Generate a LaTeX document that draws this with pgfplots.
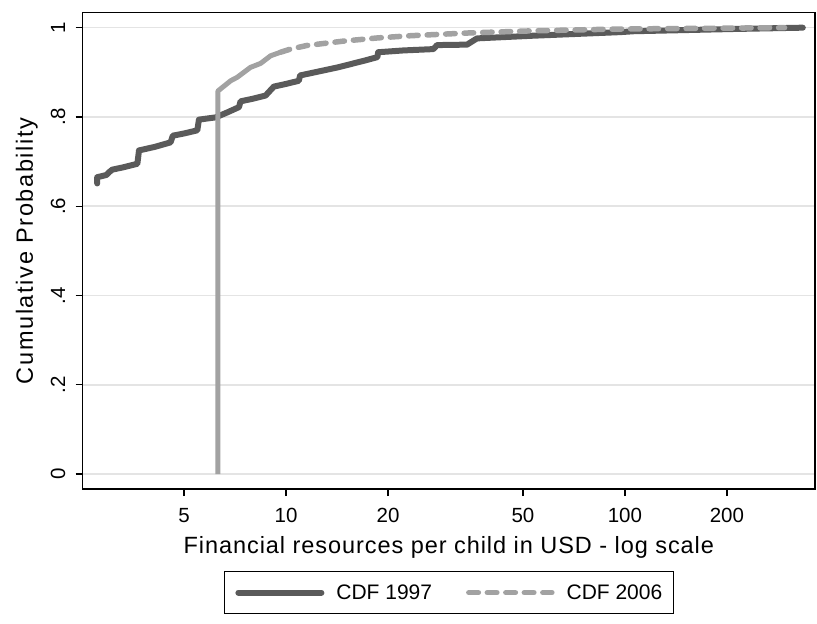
\documentclass[border=0pt]{standalone}
\usepackage{pgfplots}
\pgfplotsset{compat=1.18}
\usepackage{fontspec}
\setmainfont{Liberation Sans}
\definecolor{cdfdark}{RGB}{90,90,90}
\definecolor{cdflight}{RGB}{162,162,162}
\definecolor{gridc}{RGB}{228,228,228}

% CDF 1997 (x in USD, cumulative probability)
\pgfplotstableread{
x y
2.77 0.651
2.77 0.665
2.95 0.670
3.00 0.676
3.07 0.682
3.30 0.687
3.64 0.695
3.68 0.725
4.10 0.733
4.56 0.743
4.63 0.758
5.00 0.763
5.47 0.770
5.53 0.794
6.19 0.799
6.70 0.810
7.26 0.822
7.34 0.835
8.00 0.841
8.70 0.848
9.20 0.868
10.0 0.874
10.9 0.881
11.0 0.893
12.5 0.902
14.2 0.911
17.0 0.926
18.6 0.934
18.7 0.945
22.2 0.949
27.2 0.952
27.9 0.961
34.2 0.962
36.6 0.976
53.6 0.982
96.8 0.990
106 0.992
208 0.997
335 1.000
}\cdfa

% CDF 2006, steep part (drawn solid)
\pgfplotstableread{
x y
6.29 0.000
6.29 0.858
6.86 0.881
7.18 0.889
7.85 0.911
8.41 0.920
9.00 0.937
9.63 0.945
}\cdfbsolid

% CDF 2006, rest (dashed)
\pgfplotstableread{
x y
9.63 0.945
10.3 0.952
11.5 0.960
14.8 0.970
18.6 0.977
23.3 0.982
34.2 0.988
53.6 0.993
96.8 0.997
296 1.000
}\cdfbdash

\begin{document}
\begin{tikzpicture}
\begin{axis}[
  xmode=log, log basis x=10,
  scale only axis, width=732.3bp, height=476.3bp,
  xmin=2.51, xmax=364, ymin=-0.03356, ymax=1.03356,
  axis line style={line width=1.4bp, black},
  xtick={5,10,20,50,100,200}, xticklabels={5,10,20,50,100,200},
  xminorticks=false,
  ytick={0,0.2,0.4,0.6,0.8,1}, yticklabels={0,.2,.4,.6,.8,1},
  tick align=outside, xtick pos=bottom, ytick pos=left,
  major tick length=7bp,
  tick style={line width=1.4bp, black},
  ymajorgrids, grid style={line width=1.5bp, gridc},
  ticklabel style={font=\fontsize{20.5bp}{24bp}\selectfont, inner sep=0pt},
  xticklabel style={anchor=base, yshift=-26.7bp},
  yticklabel style={rotate=90, anchor=base, yshift=10.7bp},
  xlabel={Financial resources per child in USD - log scale},
  ylabel={Cumulative Probability},
  label style={inner sep=0pt},
  xlabel style={font=\fontsize{23.5bp}{27bp}\selectfont\addfontfeature{LetterSpace=4},
    at={(axis description cs:0.5,-0.13437)}, anchor=base},
  ylabel style={font=\fontsize{23.5bp}{27bp}\selectfont\addfontfeature{LetterSpace=7},
    at={(axis description cs:-0.06787,0.5)}, anchor=base},
  legend columns=2,
  legend style={at={(axis description cs:0.5,-0.17216)}, anchor=north,
    draw=black, line width=1.2bp, inner xsep=11bp, inner ysep=13bp,
    font=\fontsize{21bp}{24bp}\selectfont,
    nodes={inner sep=0bp},
    /tikz/every odd column/.append style={column sep=12bp},
    /tikz/every even column/.append style={column sep=34bp}},
  legend image code/.code={\draw[#1] (0bp,0bp) -- (83bp,0bp);},
]
\coordinate (fsw) at (rel axis cs:0,0);
\addplot[cdfdark, line width=6bp, line cap=round, line join=round] table {\cdfa};
\addlegendentry{CDF 1997}
\addplot[cdflight, line width=5.5bp, line cap=round, line join=round,
  dash pattern=on 9.5bp off 9bp] table {\cdfbdash};
\addlegendentry{CDF 2006}
\addplot[cdflight, line width=5bp, line join=round, forget plot] table {\cdfbsolid};
\end{axis}
\pgfresetboundingbox
\path ([shift={(-82.7bp,-135bp)}]fsw) rectangle ++(817bp,624bp);
\end{tikzpicture}
\end{document}
